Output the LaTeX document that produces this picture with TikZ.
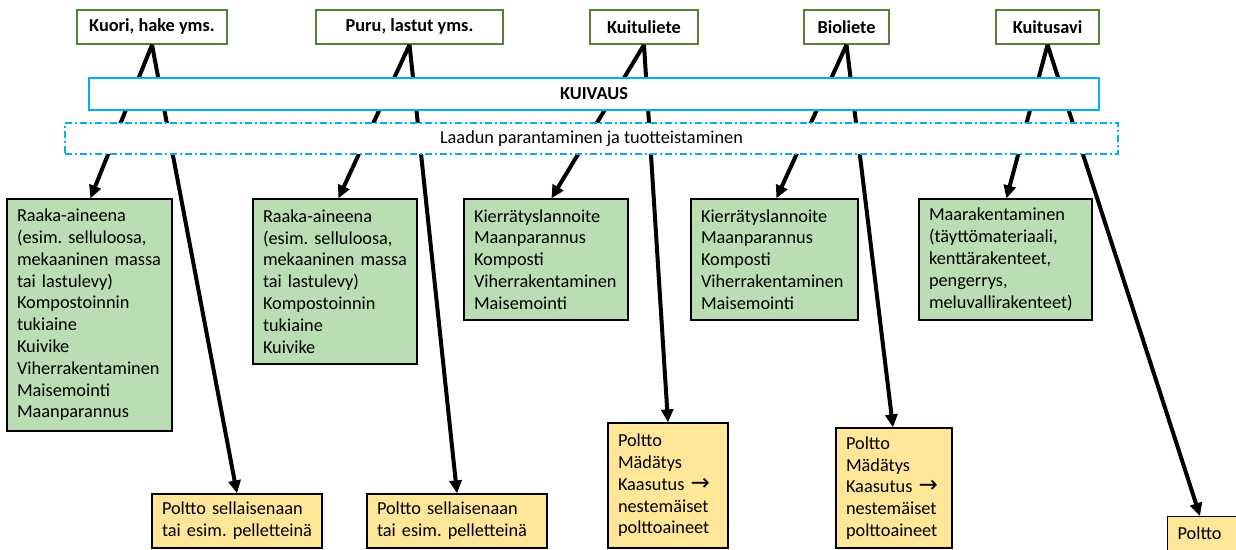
\documentclass[tikz,border=0pt]{standalone}
\usepackage{fontspec}
\setmainfont{Carlito}
\newfontfamily\arrowfont{DejaVu Sans}
\usetikzlibrary{arrows.meta}
\hyphenpenalty=10000
\exhyphenpenalty=10000
\definecolor{topgreen}{RGB}{84,130,53}
\definecolor{kblue}{RGB}{0,176,240}
\definecolor{gfill}{RGB}{186,221,179}
\definecolor{yfill}{RGB}{255,230,153}
\newcommand{\rarr}{{\arrowfont\fontsize{23}{21.8}\selectfont →}}
\tikzset{
  basefont/.style={font=\fontsize{18.3}{21.8}\selectfont},
  topbox/.style={draw=topgreen,line width=1.6pt,fill=white,inner sep=0pt,minimum height=34pt,font=\fontsize{18.3}{21.8}\selectfont\bfseries},
  kbox/.style={draw=kblue,line width=1.4pt,fill=white,inner sep=0pt,minimum height=32pt,font=\fontsize{18.3}{21.8}\selectfont\bfseries},
  dbox/.style={draw=kblue,line width=1.3pt,fill=white,inner sep=0pt,minimum height=31pt,dash pattern=on 7pt off 3pt on 2pt off 3pt,basefont},
  gbox/.style={draw=black,line width=1.2pt,fill=gfill,inner xsep=10pt,inner ysep=0pt,align=left,basefont},
  ybox/.style={draw=black,line width=1.2pt,fill=yfill,inner xsep=10pt,inner ysep=0pt,align=left,basefont},
  arr/.style={line width=4pt,-{Triangle[length=13pt,width=12pt]}}
}
\begin{document}
\begin{tikzpicture}[x=1pt,y=-1pt]
\useasboundingbox (0,0) rectangle (1236,549);
% top boxes
\node[topbox,minimum width=150pt] (kuori) at (152,27) {Kuori, hake yms.};
\node[topbox,minimum width=187pt] (puru) at (409.5,27) {Puru, lastut yms.};
\node[topbox,minimum width=108pt] (kuitul) at (644,27) {Kuituliete};
\node[topbox,minimum width=85pt] (bio) at (846.5,27) {Bioliete};
\node[topbox,minimum width=103pt] (savi) at (1047.5,27) {Kuitusavi};
% green boxes
\node[gbox,text width=145pt,minimum height=232pt] (g1) at (89.5,315) {Raaka-aineena\\(esim.\ selluloosa,\\mekaaninen massa\\tai lastulevy)\\Kompostoinnin\\tukiaine\\Kuivike\\Viherrakentaminen\\Maisemointi\\Maanparannus};
\node[gbox,text width=144pt,minimum height=165pt] (g2) at (335,281.5) {Raaka-aineena\\(esim.\ selluloosa,\\mekaaninen massa\\tai lastulevy)\\Kompostoinnin\\tukiaine\\Kuivike};
\node[gbox,text width=144pt,minimum height=121pt] (g3) at (546,259.5) {Kierrätyslannoite\\Maanparannus\\Komposti\\Viherrakentaminen\\Maisemointi};
\node[gbox,text width=147pt,minimum height=121pt] (g4) at (774.5,259.5) {Kierrätyslannoite\\Maanparannus\\Komposti\\Viherrakentaminen\\Maisemointi};
\node[gbox,text width=153pt,minimum height=121pt] (g5) at (1005.5,259.5) {Maarakentaminen\\(täyttömateriaali,\\kenttärakenteet,\\pengerrys,\\meluvallirakenteet)};
% yellow boxes
\node[ybox,text width=150pt,minimum height=54pt] (y1) at (237,521) {Poltto sellaisenaan\\tai esim.\ pelletteinä};
\node[ybox,text width=160pt,minimum height=54pt] (y2) at (457,521) {Poltto sellaisenaan\\tai esim.\ pelletteinä};
\node[ybox,text width=100pt,minimum height=125pt] (y3) at (668,485.5) {Poltto\\Mädätys\\Kaasutus \rarr\\nestemäiset\\polttoaineet};
\node[ybox,text width=96pt,minimum height=120pt] (y4) at (894,488) {Poltto\\Mädätys\\Kaasutus \rarr\\nestemäiset\\polttoaineet};
\node[ybox,text width=70pt,minimum height=34pt,anchor=north west] (y5) at (1167,516) {Poltto};
% connectors
\draw[arr] (kuori.south) -- ([xshift=84pt]g1.north west);
\draw[arr] (kuori.south) -- (y1.north);
\draw[arr] (puru.south) -- ([xshift=86pt]g2.north west);
\draw[arr] (puru.south) -- (y2.north);
\draw[arr] (kuitul.south) -- ([xshift=88pt]g3.north west);
\draw[arr] (kuitul.south) -- (y3.north);
\draw[arr] (bio.south) -- ([xshift=86pt]g4.north west);
\draw[arr] (bio.south) -- ([xshift=-1pt]y4.north);
\draw[arr] (savi.south) -- ([xshift=88pt]g5.north west);
\draw[arr] (savi.south) -- ([xshift=33pt]y5.north west);
% process bands over the connectors
\node[kbox,minimum width=1010pt] (kuivaus) at (594,94) {KUIVAUS};
\node[dbox,minimum width=1053pt] (laatu) at (591.5,138.5) {Laadun parantaminen ja tuotteistaminen};
\end{tikzpicture}
\end{document}
